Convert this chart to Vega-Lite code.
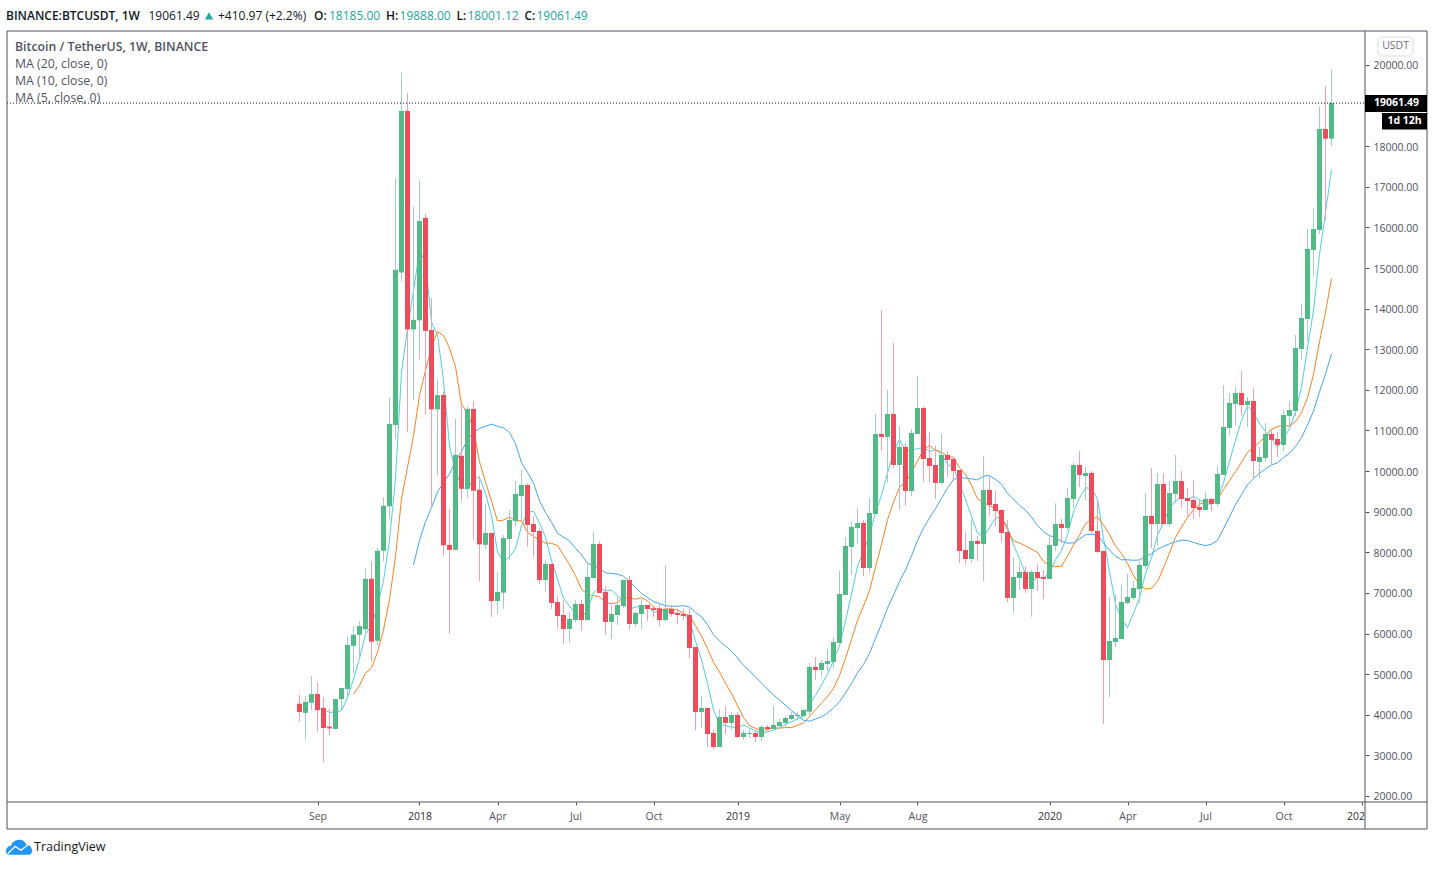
{
  "$schema": "https://vega.github.io/schema/vega-lite/v6.json",
  "width": 1358,
  "height": 771,
  "autosize": "none",
  "padding": {"left": 7, "top": 31, "right": 69, "bottom": 77},
  "background": "white",
  "view": {"stroke": null},
  "config": {"text": {"font": "Open Sans"}},
  "data": {"values": [{}]},
  "datasets": {
    "candles": [
      {"date":"2017-08-14","open":4273,"high":4488,"low":3832,"close":4069},
      {"date":"2017-08-21","open":4047,"high":4465,"low":3391,"close":4318},
      {"date":"2017-08-28","open":4296,"high":4952,"low":4114,"close":4510},
      {"date":"2017-09-04","open":4510,"high":4804,"low":3583,"close":4114},
      {"date":"2017-09-11","open":4171,"high":4431,"low":2826,"close":3674,"ma5":4137},
      {"date":"2017-09-18","open":3708,"high":4149,"low":3482,"close":3663,"ma5":4056},
      {"date":"2017-09-25","open":3651,"high":4386,"low":3651,"close":4386,"ma5":4069},
      {"date":"2017-10-02","open":4386,"high":4658,"low":4125,"close":4658,"ma5":4099},
      {"date":"2017-10-09","open":4635,"high":5935,"low":4465,"close":5720,"ma5":4420},
      {"date":"2017-10-16","open":5697,"high":6184,"low":5031,"close":5969,"ma5":4879,"ma10":4508},
      {"date":"2017-10-23","open":5969,"high":6300,"low":5370,"close":6184,"ma5":5383,"ma10":4720},
      {"date":"2017-10-30","open":6104,"high":7597,"low":6000,"close":7348,"ma5":5976,"ma10":5022},
      {"date":"2017-11-06","open":7348,"high":7778,"low":5313,"close":5800,"ma5":6204,"ma10":5152},
      {"date":"2017-11-13","open":5822,"high":8117,"low":5709,"close":8038,"ma5":6668,"ma10":5544},
      {"date":"2017-11-20","open":8038,"high":9361,"low":7778,"close":9146,"ma5":7303,"ma10":6091},
      {"date":"2017-11-27","open":9135,"high":11814,"low":8818,"close":11158,"ma5":8298,"ma10":6840},
      {"date":"2017-12-04","open":11136,"high":17218,"low":10797,"close":14957,"ma5":9820,"ma10":7898},
      {"date":"2017-12-11","open":14889,"high":19807,"low":14674,"close":18869,"ma5":12434,"ma10":9319},
      {"date":"2017-12-18","open":18869,"high":19310,"low":10966,"close":13487,"ma5":13523,"ma10":10096},
      {"date":"2017-12-25","open":13487,"high":16506,"low":11735,"close":13725,"ma5":14439,"ma10":10871,"ma20":7690},
      {"date":"2018-01-01","open":13713,"high":17162,"low":12753,"close":16156,"ma5":15439,"ma10":11868,"ma20":8294},
      {"date":"2018-01-08","open":16235,"high":16336,"low":11396,"close":13453,"ma5":15138,"ma10":12479,"ma20":8751},
      {"date":"2018-01-15","open":13476,"high":14267,"low":9101,"close":11520,"ma5":13668,"ma10":13051,"ma20":9102},
      {"date":"2018-01-22","open":11520,"high":12244,"low":9892,"close":11871,"ma5":13345,"ma10":13434,"ma20":9489},
      {"date":"2018-01-29","open":11871,"high":11961,"low":7914,"close":8174,"ma5":12235,"ma10":13337,"ma20":9714},
      {"date":"2018-02-05","open":8185,"high":9067,"low":5992,"close":8061,"ma5":10616,"ma10":13028,"ma20":9934},
      {"date":"2018-02-12","open":8061,"high":11283,"low":8061,"close":10401,"ma5":10005,"ma10":12572,"ma20":10235},
      {"date":"2018-02-19","open":10378,"high":11622,"low":9270,"close":9564,"ma5":9614,"ma10":11641,"ma20":10480},
      {"date":"2018-02-26","open":9564,"high":11588,"low":9349,"close":11531,"ma5":9546,"ma10":11446,"ma20":10771},
      {"date":"2018-03-05","open":11531,"high":11724,"low":8309,"close":9519,"ma5":9815,"ma10":11025,"ma20":10948},
      {"date":"2018-03-12","open":9542,"high":9892,"low":7292,"close":8196,"ma5":9842,"ma10":10229,"ma20":11049},
      {"date":"2018-03-19","open":8185,"high":9180,"low":8083,"close":8479,"ma5":9458,"ma10":9732,"ma20":11106},
      {"date":"2018-03-26","open":8479,"high":8479,"low":6410,"close":6802,"ma5":8905,"ma10":9260,"ma20":11156},
      {"date":"2018-04-02","open":6802,"high":7516,"low":6482,"close":7024,"ma5":8004,"ma10":8775,"ma20":11105},
      {"date":"2018-04-09","open":7007,"high":8427,"low":6605,"close":8353,"ma5":7771,"ma10":8793,"ma20":11065},
      {"date":"2018-04-16","open":8329,"high":9043,"low":7812,"close":8797,"ma5":7891,"ma10":8867,"ma20":10948},
      {"date":"2018-04-23","open":8772,"high":9757,"low":8632,"close":9437,"ma5":8083,"ma10":8771,"ma20":10672},
      {"date":"2018-04-30","open":9388,"high":10028,"low":8797,"close":9658,"ma5":8654,"ma10":8780,"ma20":10211},
      {"date":"2018-05-07","open":9658,"high":9700,"low":8140,"close":8674,"ma5":8984,"ma10":8494,"ma20":9970},
      {"date":"2018-05-14","open":8698,"high":8895,"low":7894,"close":8501,"ma5":9013,"ma10":8392,"ma20":9709},
      {"date":"2018-05-21","open":8526,"high":8591,"low":7221,"close":7319,"ma5":8718,"ma10":8305,"ma20":9267},
      {"date":"2018-05-28","open":7319,"high":7787,"low":7032,"close":7713,"ma5":8373,"ma10":8228,"ma20":8980},
      {"date":"2018-06-04","open":7713,"high":7713,"low":6605,"close":6753,"ma5":7792,"ma10":8223,"ma20":8742},
      {"date":"2018-06-11","open":6778,"high":6925,"low":6113,"close":6433,"ma5":7344,"ma10":8164,"ma20":8470},
      {"date":"2018-06-18","open":6457,"high":6827,"low":5743,"close":6113,"ma5":6866,"ma10":7940,"ma20":8367},
      {"date":"2018-06-25","open":6113,"high":6531,"low":5776,"close":6359,"ma5":6674,"ma10":7696,"ma20":8282},
      {"date":"2018-07-02","open":6334,"high":6827,"low":6268,"close":6728,"ma5":6477,"ma10":7425,"ma20":8098},
      {"date":"2018-07-09","open":6728,"high":6827,"low":6063,"close":6334,"ma5":6393,"ma10":7093,"ma20":7937},
      {"date":"2018-07-16","open":6334,"high":7730,"low":6318,"close":7393,"ma5":6585,"ma10":6965,"ma20":7730},
      {"date":"2018-07-23","open":7368,"high":8501,"low":7368,"close":8206,"ma5":7004,"ma10":6935,"ma20":7664},
      {"date":"2018-07-30","open":8206,"high":8271,"low":7000,"close":7000,"ma5":7132,"ma10":6903,"ma20":7604},
      {"date":"2018-08-06","open":7024,"high":7171,"low":5965,"close":6285,"ma5":7044,"ma10":6761,"ma20":7495},
      {"date":"2018-08-13","open":6285,"high":6703,"low":5866,"close":6482,"ma5":7073,"ma10":6733,"ma20":7478},
      {"date":"2018-08-20","open":6457,"high":6909,"low":6211,"close":6703,"ma5":6935,"ma10":6760,"ma20":7462},
      {"date":"2018-08-27","open":6679,"high":7319,"low":6630,"close":7319,"ma5":6758,"ma10":6881,"ma20":7411},
      {"date":"2018-09-03","open":7319,"high":7418,"low":6088,"close":6236,"ma5":6605,"ma10":6869,"ma20":7283},
      {"date":"2018-09-10","open":6236,"high":6540,"low":6162,"close":6507,"ma5":6649,"ma10":6847,"ma20":7136},
      {"date":"2018-09-17","open":6482,"high":6851,"low":6113,"close":6703,"ma5":6694,"ma10":6884,"ma20":6989},
      {"date":"2018-09-24","open":6703,"high":6703,"low":6310,"close":6605,"ma5":6674,"ma10":6805,"ma20":6885},
      {"date":"2018-10-01","open":6621,"high":6679,"low":6400,"close":6580,"ma5":6526,"ma10":6642,"ma20":6789},
      {"date":"2018-10-08","open":6621,"high":6744,"low":6186,"close":6334,"ma5":6546,"ma10":6576,"ma20":6740},
      {"date":"2018-10-15","open":6334,"high":7688,"low":6293,"close":6605,"ma5":6565,"ma10":6607,"ma20":6684},
      {"date":"2018-10-22","open":6605,"high":6703,"low":6416,"close":6482,"ma5":6521,"ma10":6608,"ma20":6671},
      {"date":"2018-10-29","open":6507,"high":6621,"low":6236,"close":6457,"ma5":6492,"ma10":6583,"ma20":6672},
      {"date":"2018-11-05","open":6482,"high":6621,"low":6334,"close":6433,"ma5":6462,"ma10":6494,"ma20":6688},
      {"date":"2018-11-12","open":6457,"high":6621,"low":5398,"close":5645,"ma5":6324,"ma10":6435,"ma20":6652},
      {"date":"2018-11-19","open":5669,"high":5669,"low":3626,"close":4069,"ma5":5817,"ma10":6191,"ma20":6519},
      {"date":"2018-11-26","open":4069,"high":4463,"low":3675,"close":4167,"ma5":5354,"ma10":5938,"ma20":6411},
      {"date":"2018-12-03","open":4167,"high":4167,"low":3207,"close":3527,"ma5":4768,"ma10":5630,"ma20":6218},
      {"date":"2018-12-10","open":3552,"high":3626,"low":3133,"close":3207,"ma5":4123,"ma10":5293,"ma20":5968},
      {"date":"2018-12-17","open":3207,"high":4143,"low":3207,"close":3946,"ma5":3783,"ma10":5054,"ma20":5815},
      {"date":"2018-12-24","open":3946,"high":4217,"low":3527,"close":3798,"ma5":3729,"ma10":4773,"ma20":5690},
      {"date":"2018-12-31","open":3798,"high":4069,"low":3626,"close":3995,"ma5":3695,"ma10":4525,"ma20":5567},
      {"date":"2019-01-07","open":3995,"high":4069,"low":3429,"close":3453,"ma5":3680,"ma10":4224,"ma20":5404},
      {"date":"2019-01-14","open":3453,"high":3626,"low":3380,"close":3552,"ma5":3749,"ma10":3936,"ma20":5215},
      {"date":"2019-01-21","open":3527,"high":3667,"low":3429,"close":3552,"ma5":3670,"ma10":3727,"ma20":5081},
      {"date":"2019-01-28","open":3552,"high":3626,"low":3330,"close":3453,"ma5":3601,"ma10":3665,"ma20":4928},
      {"date":"2019-02-04","open":3453,"high":3749,"low":3355,"close":3700,"ma5":3542,"ma10":3619,"ma20":4779},
      {"date":"2019-02-11","open":3700,"high":3749,"low":3600,"close":3650,"ma5":3581,"ma10":3631,"ma20":4631},
      {"date":"2019-02-18","open":3650,"high":4217,"low":3650,"close":3749,"ma5":3621,"ma10":3685,"ma20":4489},
      {"date":"2019-02-25","open":3724,"high":3897,"low":3700,"close":3823,"ma5":3675,"ma10":3673,"ma20":4364},
      {"date":"2019-03-04","open":3798,"high":3954,"low":3667,"close":3921,"ma5":3769,"ma10":3685,"ma20":4229},
      {"date":"2019-03-11","open":3897,"high":4077,"low":3872,"close":3995,"ma5":3828,"ma10":3685,"ma20":4105},
      {"date":"2019-03-18","open":3971,"high":4069,"low":3855,"close":3995,"ma5":3897,"ma10":3739,"ma20":3982},
      {"date":"2019-03-25","open":3971,"high":4151,"low":3954,"close":4118,"ma5":3970,"ma10":3796,"ma20":3866},
      {"date":"2019-04-01","open":4077,"high":5275,"low":3995,"close":5177,"ma5":4241,"ma10":3958,"ma20":3843},
      {"date":"2019-04-08","open":5177,"high":5423,"low":4857,"close":5103,"ma5":4478,"ma10":4124,"ma20":3895},
      {"date":"2019-04-15","open":5103,"high":5349,"low":4931,"close":5275,"ma5":4734,"ma10":4281,"ma20":3950},
      {"date":"2019-04-22","open":5250,"high":5620,"low":5078,"close":5325,"ma5":5000,"ma10":4449,"ma20":4040},
      {"date":"2019-04-29","open":5300,"high":5916,"low":5152,"close":5793,"ma5":5335,"ma10":4653,"ma20":4169},
      {"date":"2019-05-06","open":5768,"high":7541,"low":5768,"close":6975,"ma5":5694,"ma10":4968,"ma20":4321},
      {"date":"2019-05-13","open":6950,"high":8378,"low":6950,"close":8157,"ma5":6305,"ma10":5392,"ma20":4539},
      {"date":"2019-05-20","open":8132,"high":8747,"low":7442,"close":8624,"ma5":6975,"ma10":5855,"ma20":4770},
      {"date":"2019-05-27","open":8600,"high":9092,"low":8206,"close":8723,"ma5":7654,"ma10":6327,"ma20":5033},
      {"date":"2019-06-03","open":8723,"high":8797,"low":7418,"close":7615,"ma5":8019,"ma10":6677,"ma20":5237},
      {"date":"2019-06-10","open":7615,"high":9338,"low":7492,"close":8969,"ma5":8418,"ma10":7056,"ma20":5507},
      {"date":"2019-06-17","open":8944,"high":11407,"low":8944,"close":10914,"ma5":8969,"ma10":7637,"ma20":5881},
      {"date":"2019-06-24","open":10914,"high":13968,"low":10496,"close":10841,"ma5":9412,"ma10":8194,"ma20":6238},
      {"date":"2019-07-01","open":10841,"high":11998,"low":9708,"close":11407,"ma5":9949,"ma10":8802,"ma20":6626},
      {"date":"2019-07-08","open":11407,"high":13155,"low":10077,"close":10151,"ma5":10456,"ma10":9238,"ma20":6946},
      {"date":"2019-07-15","open":10151,"high":11111,"low":9043,"close":10594,"ma5":10781,"ma10":9600,"ma20":7284},
      {"date":"2019-07-22","open":10594,"high":10685,"low":9141,"close":9511,"ma5":10501,"ma10":9735,"ma20":7564},
      {"date":"2019-07-29","open":9511,"high":11037,"low":9388,"close":10939,"ma5":10520,"ma10":9966,"ma20":7911},
      {"date":"2019-08-05","open":10914,"high":12343,"low":10914,"close":11555,"ma5":10550,"ma10":10250,"ma20":8289},
      {"date":"2019-08-12","open":11555,"high":11587,"low":9732,"close":10299,"ma5":10580,"ma10":10518,"ma20":8598},
      {"date":"2019-08-19","open":10323,"high":10964,"low":9732,"close":10126,"ma5":10486,"ma10":10634,"ma20":8845},
      {"date":"2019-08-26","open":10151,"high":10619,"low":9314,"close":9708,"ma5":10525,"ma10":10513,"ma20":9075},
      {"date":"2019-09-02","open":9708,"high":10914,"low":9683,"close":10397,"ma5":10417,"ma10":10469,"ma20":9332},
      {"date":"2019-09-09","open":10397,"high":10496,"low":9856,"close":10274,"ma5":10161,"ma10":10356,"ma20":9579},
      {"date":"2019-09-16","open":10299,"high":10356,"low":9757,"close":10003,"ma5":10102,"ma10":10341,"ma20":9790},
      {"date":"2019-09-23","open":10028,"high":10028,"low":7738,"close":8033,"ma5":9683,"ma10":10085,"ma20":9843},
      {"date":"2019-09-30","open":8058,"high":8501,"low":7689,"close":7836,"ma5":9309,"ma10":9917,"ma20":9826},
      {"date":"2019-10-07","open":7836,"high":8797,"low":7738,"close":8280,"ma5":8885,"ma10":9651,"ma20":9809},
      {"date":"2019-10-14","open":8280,"high":8403,"low":7787,"close":8206,"ma5":8472,"ma10":9317,"ma20":9784},
      {"date":"2019-10-21","open":8206,"high":10373,"low":7295,"close":9535,"ma5":8378,"ma10":9240,"ma20":9879},
      {"date":"2019-10-28","open":9535,"high":9880,"low":8895,"close":9166,"ma5":8605,"ma10":9144,"ma20":9889},
      {"date":"2019-11-04","open":9191,"high":9511,"low":8649,"close":9018,"ma5":8841,"ma10":9075,"ma20":9794},
      {"date":"2019-11-11","open":9043,"high":9060,"low":8255,"close":8477,"ma5":8880,"ma10":8883,"ma20":9676},
      {"date":"2019-11-18","open":8501,"high":8797,"low":6778,"close":6876,"ma5":8614,"ma10":8543,"ma20":9450},
      {"date":"2019-11-25","open":6876,"high":7861,"low":6507,"close":7393,"ma5":8186,"ma10":8282,"ma20":9312},
      {"date":"2019-12-02","open":7368,"high":7763,"low":7073,"close":7516,"ma5":7856,"ma10":8231,"ma20":9158},
      {"date":"2019-12-09","open":7516,"high":7664,"low":7000,"close":7098,"ma5":7472,"ma10":8157,"ma20":9037},
      {"date":"2019-12-16","open":7098,"high":7566,"low":6416,"close":7516,"ma5":7280,"ma10":8080,"ma20":8866},
      {"date":"2019-12-23","open":7516,"high":7713,"low":7048,"close":7368,"ma5":7378,"ma10":7996,"ma20":8657},
      {"date":"2019-12-30","open":7393,"high":7566,"low":6851,"close":7344,"ma5":7368,"ma10":7777,"ma20":8509},
      {"date":"2020-01-06","open":7344,"high":8403,"low":7344,"close":8181,"ma5":7501,"ma10":7679,"ma20":8412},
      {"date":"2020-01-13","open":8157,"high":9207,"low":8033,"close":8698,"ma5":7821,"ma10":7647,"ma20":8361},
      {"date":"2020-01-20","open":8698,"high":8821,"low":8239,"close":8600,"ma5":8038,"ma10":7659,"ma20":8271},
      {"date":"2020-01-27","open":8600,"high":9585,"low":8550,"close":9338,"ma5":8432,"ma10":7905,"ma20":8224},
      {"date":"2020-02-03","open":9314,"high":10200,"low":9092,"close":10151,"ma5":8994,"ma10":8181,"ma20":8232},
      {"date":"2020-02-10","open":10151,"high":10496,"low":9610,"close":9905,"ma5":9338,"ma10":8420,"ma20":8326},
      {"date":"2020-02-17","open":9880,"high":10110,"low":9289,"close":9954,"ma5":9590,"ma10":8706,"ma20":8432},
      {"date":"2020-02-24","open":9954,"high":10003,"low":8427,"close":8526,"ma5":9575,"ma10":8807,"ma20":8444},
      {"date":"2020-03-02","open":8526,"high":9289,"low":7984,"close":8009,"ma5":9309,"ma10":8871,"ma20":8434},
      {"date":"2020-03-09","open":8033,"high":8033,"low":3773,"close":5349,"ma5":8349,"ma10":8672,"ma20":8225},
      {"date":"2020-03-16","open":5349,"high":6901,"low":4438,"close":5817,"ma5":7531,"ma10":8435,"ma20":8057},
      {"date":"2020-03-23","open":5793,"high":6975,"low":5669,"close":5891,"ma5":6718,"ma10":8154,"ma20":7901},
      {"date":"2020-03-30","open":5866,"high":7196,"low":5866,"close":6778,"ma5":6369,"ma10":7972,"ma20":7816},
      {"date":"2020-04-06","open":6753,"high":7467,"low":6728,"close":6900,"ma5":6147,"ma10":7728,"ma20":7817},
      {"date":"2020-04-13","open":6876,"high":7295,"low":6827,"close":7122,"ma5":6502,"ma10":7426,"ma20":7804},
      {"date":"2020-04-20","open":7098,"high":7771,"low":6745,"close":7689,"ma5":6876,"ma10":7204,"ma20":7812},
      {"date":"2020-04-27","open":7664,"high":9461,"low":7590,"close":8895,"ma5":7477,"ma10":7098,"ma20":7902},
      {"date":"2020-05-04","open":8895,"high":10077,"low":8107,"close":8698,"ma5":7861,"ma10":7115,"ma20":7961},
      {"date":"2020-05-11","open":8698,"high":9954,"low":8181,"close":9683,"ma5":8417,"ma10":7282,"ma20":8077},
      {"date":"2020-05-18","open":9683,"high":9954,"low":8698,"close":8698,"ma5":8733,"ma10":7618,"ma20":8145},
      {"date":"2020-05-25","open":8698,"high":9757,"low":8632,"close":9461,"ma5":9087,"ma10":7982,"ma20":8209},
      {"date":"2020-06-01","open":9437,"high":10397,"low":9207,"close":9757,"ma5":9259,"ma10":8368,"ma20":8261},
      {"date":"2020-06-08","open":9757,"high":10003,"low":9092,"close":9314,"ma5":9383,"ma10":8622,"ma20":8297},
      {"date":"2020-06-15","open":9338,"high":9585,"low":8895,"close":9264,"ma5":9299,"ma10":8858,"ma20":8293},
      {"date":"2020-06-22","open":9289,"high":9782,"low":8821,"close":9092,"ma5":9378,"ma10":9056,"ma20":8241},
      {"date":"2020-06-29","open":9117,"high":9289,"low":8870,"close":9043,"ma5":9294,"ma10":9191,"ma20":8198},
      {"date":"2020-07-06","open":9043,"high":9486,"low":9043,"close":9314,"ma5":9205,"ma10":9232,"ma20":8165},
      {"date":"2020-07-13","open":9314,"high":9338,"low":9018,"close":9191,"ma5":9181,"ma10":9282,"ma20":8199},
      {"date":"2020-07-20","open":9191,"high":10126,"low":9125,"close":9929,"ma5":9314,"ma10":9307,"ma20":8295},
      {"date":"2020-07-27","open":9905,"high":12121,"low":9905,"close":11087,"ma5":9713,"ma10":9546,"ma20":8582},
      {"date":"2020-08-03","open":11062,"high":11924,"low":10890,"close":11678,"ma5":10240,"ma10":9767,"ma20":8875},
      {"date":"2020-08-10","open":11653,"high":12072,"low":11111,"close":11924,"ma5":10762,"ma10":9984,"ma20":9176},
      {"date":"2020-08-17","open":11924,"high":12466,"low":11358,"close":11628,"ma5":11249,"ma10":10215,"ma20":9419},
      {"date":"2020-08-24","open":11628,"high":11825,"low":11087,"close":11727,"ma5":11609,"ma10":10462,"ma20":9660},
      {"date":"2020-08-31","open":11727,"high":12047,"low":9831,"close":10250,"ma5":11441,"ma10":10577,"ma20":9817},
      {"date":"2020-09-07","open":10225,"high":10594,"low":9831,"close":10348,"ma5":11175,"ma10":10708,"ma20":9950},
      {"date":"2020-09-14","open":10323,"high":11185,"low":10225,"close":10914,"ma5":10973,"ma10":10868,"ma20":10050},
      {"date":"2020-09-21","open":10914,"high":11013,"low":10151,"close":10767,"ma5":10801,"ma10":11025,"ma20":10154},
      {"date":"2020-09-28","open":10792,"high":10964,"low":10348,"close":10644,"ma5":10585,"ma10":11097,"ma20":10202},
      {"date":"2020-10-05","open":10644,"high":11505,"low":10496,"close":11382,"ma5":10811,"ma10":11126,"ma20":10336},
      {"date":"2020-10-12","open":11358,"high":11727,"low":11095,"close":11505,"ma5":11042,"ma10":11109,"ma20":10438},
      {"date":"2020-10-19","open":11481,"high":13352,"low":11350,"close":13032,"ma5":11466,"ma10":11220,"ma20":10602},
      {"date":"2020-10-26","open":13008,"high":14115,"low":12737,"close":13771,"ma5":12067,"ma10":11434,"ma20":10825},
      {"date":"2020-11-02","open":13746,"high":15962,"low":13188,"close":15470,"ma5":13032,"ma10":11809,"ma20":11136},
      {"date":"2020-11-09","open":15445,"high":16471,"low":14789,"close":15962,"ma5":13948,"ma10":12380,"ma20":11479},
      {"date":"2020-11-16","open":15938,"high":18967,"low":15839,"close":18425,"ma5":15332,"ma10":13187,"ma20":11948},
      {"date":"2020-11-23","open":18425,"high":19484,"low":16168,"close":18185,"ma5":16363,"ma10":13915,"ma20":12392},
      {"date":"2020-11-30","open":18185,"high":19888,"low":18001.12,"close":19061.49,"ma5":17421,"ma10":14744,"ma20":12885}
    ]
  },
  "layer": [
    {
      "data": {"name": "candles"},
      "mark": {"type": "line", "color": "#4dd0e1", "strokeWidth": 1, "clip": true},
      "encoding": {
        "x": {
          "field": "date",
          "type": "temporal",
          "title": null,
          "scale": {"type": "utc", "nice": false, "padding": 0, "domain": [{"year":2016,"month":9,"date":6,"hours":18,"utc":true}, {"year":2021,"month":1,"date":8,"hours":2,"utc":true}]},
          "axis": {
            "values": [
              {"year":2017,"month":9,"date":4,"utc":true},
              {"year":2018,"month":1,"date":1,"utc":true},
              {"year":2018,"month":4,"date":2,"utc":true},
              {"year":2018,"month":7,"date":2,"utc":true},
              {"year":2018,"month":10,"date":1,"utc":true},
              {"year":2019,"month":1,"date":7,"utc":true},
              {"year":2019,"month":5,"date":6,"utc":true},
              {"year":2019,"month":8,"date":5,"utc":true},
              {"year":2020,"month":1,"date":6,"utc":true},
              {"year":2020,"month":4,"date":6,"utc":true},
              {"year":2020,"month":7,"date":6,"utc":true},
              {"year":2020,"month":10,"date":5,"utc":true},
              {"year":2021,"month":1,"date":4,"utc":true}
            ],
            "labelExpr": "utcmonth(datum.value) === 0 ? (utcyear(datum.value) === 2021 ? '202' : '' + utcyear(datum.value)) : utcFormat(datum.value, '%b')",
            "labelFont": "Open Sans",
            "labelFontSize": 10.5,
            "labelColor": {"condition": {"test": "utcmonth(datum.value) === 0", "value": "#2a2e39"}, "value": "#50535e"},
            "labelOffset": {"condition": {"test": "utcyear(datum.value) === 2021", "value": -6}, "value": 0},
            "labelPadding": 6,
            "labelOverlap": false,
            "labelFlush": false,
            "tickColor": "#50535e",
            "tickSize": 3,
            "domain": false,
            "grid": false
          }
        },
        "y": {
          "field": "ma5",
          "type": "quantitative",
          "title": null,
          "scale": {"domain": [1852, 20837], "nice": false, "zero": false},
          "axis": {
            "orient": "right",
            "values": [2000, 3000, 4000, 5000, 6000, 7000, 8000, 9000, 10000, 11000, 12000, 13000, 14000, 15000, 16000, 17000, 18000, 19000, 20000],
            "format": ".2f",
            "labelFont": "Open Sans",
            "labelFontSize": 10.5,
            "labelColor": "#50535e",
            "labelPadding": 4,
            "labelOffset": 1,
            "labelOverlap": false,
            "labelFlush": false,
            "tickColor": "#50535e",
            "tickSize": 4,
            "domain": false,
            "grid": false
          }
        }
      }
    },
    {
      "data": {"name": "candles"},
      "mark": {"type": "line", "color": "#ff7f1e", "strokeWidth": 1, "clip": true},
      "encoding": {"x": {"field": "date", "type": "temporal"}, "y": {"field": "ma10", "type": "quantitative"}}
    },
    {
      "data": {"name": "candles"},
      "mark": {"type": "line", "color": "#42a5f5", "strokeWidth": 1, "clip": true},
      "encoding": {"x": {"field": "date", "type": "temporal"}, "y": {"field": "ma20", "type": "quantitative"}}
    },
    {
      "data": {"name": "candles"},
      "mark": {"type": "rule", "strokeWidth": 1},
      "encoding": {
        "x": {"field": "date", "type": "temporal"},
        "y": {"field": "low", "type": "quantitative"},
        "y2": {"field": "high"},
        "color": {"condition": {"test": "datum.close >= datum.open", "value": "#a5cbc8"}, "value": "#f0a3ae"}
      }
    },
    {
      "data": {"name": "candles"},
      "mark": {"type": "bar", "width": 5},
      "encoding": {
        "x": {"field": "date", "type": "temporal"},
        "y": {"field": "open", "type": "quantitative"},
        "y2": {"field": "close"},
        "color": {"condition": {"test": "datum.close >= datum.open", "value": "#53b987"}, "value": "#eb4d5c"}
      }
    },
    {
      "mark": {"type": "rule", "color": "#131722", "strokeWidth": 1, "strokeDash": [1, 2]},
      "encoding": {
        "x": {"datum": {"year":2016,"month":9,"date":6,"hours":18,"utc":true}, "type": "temporal"},
        "x2": {"datum": {"year":2021,"month":1,"date":8,"hours":2,"utc":true}},
        "y": {"datum": 19061.49, "type": "quantitative"}
      }
    },
    {
      "mark": {"type": "rect", "fillOpacity": 0, "stroke": "#50535e", "strokeWidth": 1},
      "encoding": {
        "x": {"datum": {"year":2016,"month":9,"date":6,"hours":18,"utc":true}, "type": "temporal"},
        "x2": {"datum": {"year":2021,"month":3,"date":21,"hours":10,"utc":true}},
        "y": {"datum": 1187, "type": "quantitative"},
        "y2": {"datum": 20837}
      }
    },
    {
      "mark": {"type": "rule", "color": "#50535e", "strokeWidth": 1},
      "encoding": {
        "x": {"datum": {"year":2021,"month":1,"date":8,"hours":2,"utc":true}, "type": "temporal"},
        "y": {"datum": 1187, "type": "quantitative"},
        "y2": {"datum": 20837}
      }
    },
    {
      "mark": {"type": "rule", "color": "#50535e", "strokeWidth": 1},
      "encoding": {
        "x": {"datum": {"year":2016,"month":9,"date":6,"hours":18,"utc":true}, "type": "temporal"},
        "x2": {"datum": {"year":2021,"month":3,"date":21,"hours":10,"utc":true}},
        "y": {"datum": 1852, "type": "quantitative"}
      }
    },
    {
      "mark": {"type": "rect", "color": "#000000"},
      "encoding": {
        "x": {"datum": {"year":2021,"month":1,"date":8,"hours":2,"utc":true}, "type": "temporal"},
        "x2": {"datum": {"year":2021,"month":3,"date":21,"hours":10,"utc":true}},
        "y": {"datum": 19262, "type": "quantitative"},
        "y2": {"datum": 18844}
      }
    },
    {
      "mark": {"type": "rect", "color": "#000000"},
      "encoding": {
        "x": {"datum": {"year":2021,"month":1,"date":27,"hours":22,"utc":true}, "type": "temporal"},
        "x2": {"datum": {"year":2021,"month":3,"date":21,"hours":10,"utc":true}},
        "y": {"datum": 18819, "type": "quantitative"},
        "y2": {"datum": 18413}
      }
    },
    {
      "mark": {"type": "rect", "fillOpacity": 0, "stroke": "#dcdce4", "strokeWidth": 1, "cornerRadius": 4},
      "encoding": {
        "x": {"datum": {"year":2021,"month":1,"date":23,"hours":6,"utc":true}, "type": "temporal"},
        "x2": {"datum": {"year":2021,"month":3,"date":5,"hours":2,"utc":true}},
        "y": {"datum": 20690, "type": "quantitative"},
        "y2": {"datum": 20222}
      }
    },
    {
      "mark": {"type": "text", "text": "USDT", "fontSize": 10.5, "color": "#6b6e78"},
      "encoding": {"x": {"datum": {"year":2021,"month":2,"date":12,"hours":17,"utc":true}, "type": "temporal"}, "y": {"datum": 20457, "type": "quantitative"}}
    },
    {
      "mark": {"type": "text", "text": "19061.49", "fontSize": 10.5, "fontWeight": "bold", "color": "#ffffff"},
      "encoding": {"x": {"datum": {"year":2021,"month":2,"date":13,"hours":22,"utc":true}, "type": "temporal"}, "y": {"datum": 19053, "type": "quantitative"}}
    },
    {
      "mark": {"type": "text", "text": "1d 12h", "fontSize": 10.5, "fontWeight": "bold", "color": "#ffffff"},
      "encoding": {"x": {"datum": {"year":2021,"month":2,"date":23,"hours":5,"utc":true}, "type": "temporal"}, "y": {"datum": 18616, "type": "quantitative"}}
    },
    {
      "mark": {"type": "text", "text": "Bitcoin / TetherUS, 1W, BINANCE", "align": "left", "fontSize": 12.3, "fontWeight": 600, "color": "#50535e"},
      "encoding": {"x": {"datum": {"year":2016,"month":9,"date":16,"hours":2,"utc":true}, "type": "temporal"}, "y": {"datum": 20444, "type": "quantitative"}}
    },
    {
      "mark": {"type": "text", "text": "MA (20, close, 0)", "align": "left", "fontSize": 12.3, "color": "#50535e"},
      "encoding": {"x": {"datum": {"year":2016,"month":9,"date":16,"hours":2,"utc":true}, "type": "temporal"}, "y": {"datum": 20025, "type": "quantitative"}}
    },
    {
      "mark": {"type": "text", "text": "MA (10, close, 0)", "align": "left", "fontSize": 12.3, "color": "#50535e"},
      "encoding": {"x": {"datum": {"year":2016,"month":9,"date":16,"hours":2,"utc":true}, "type": "temporal"}, "y": {"datum": 19607, "type": "quantitative"}}
    },
    {
      "mark": {"type": "text", "text": "MA (5, close, 0)", "align": "left", "fontSize": 12.3, "color": "#50535e"},
      "encoding": {"x": {"datum": {"year":2016,"month":9,"date":16,"hours":2,"utc":true}, "type": "temporal"}, "y": {"datum": 19188, "type": "quantitative"}}
    },
    {
      "mark": {"type": "text", "text": "BINANCE:BTCUSDT, 1W", "align": "left", "fontSize": 12, "fontWeight": 600, "color": "#131722"},
      "encoding": {"x": {"datum": {"year":2016,"month":9,"date":5,"hours":14,"utc":true}, "type": "temporal"}, "y": {"datum": 21207, "type": "quantitative"}}
    },
    {
      "mark": {"type": "text", "text": "19061.49", "align": "left", "fontSize": 12, "color": "#131722"},
      "encoding": {"x": {"datum": {"year":2017,"month":2,"date":18,"hours":20,"utc":true}, "type": "temporal"}, "y": {"datum": 21207, "type": "quantitative"}}
    },
    {
      "mark": {"type": "point", "shape": "triangle-up", "size": 70, "filled": true, "color": "#26a69a", "opacity": 1},
      "encoding": {"x": {"datum": {"year":2017,"month":4,"date":30,"hours":10,"utc":true}, "type": "temporal"}, "y": {"datum": 21207, "type": "quantitative"}}
    },
    {
      "mark": {"type": "text", "text": "+410.97 (+2.2%)", "align": "left", "fontSize": 12, "color": "#131722"},
      "encoding": {"x": {"datum": {"year":2017,"month":5,"date":10,"hours":22,"utc":true}, "type": "temporal"}, "y": {"datum": 21207, "type": "quantitative"}}
    },
    {
      "mark": {"type": "text", "text": "O:", "align": "left", "fontSize": 12, "fontWeight": 600, "color": "#131722"},
      "encoding": {"x": {"datum": {"year":2017,"month":8,"date":30,"hours":22,"utc":true}, "type": "temporal"}, "y": {"datum": 21207, "type": "quantitative"}}
    },
    {
      "mark": {"type": "text", "text": "18185.00", "align": "left", "fontSize": 12, "color": "#26a69a"},
      "encoding": {"x": {"datum": {"year":2017,"month":9,"date":17,"hours":10,"utc":true}, "type": "temporal"}, "y": {"datum": 21207, "type": "quantitative"}}
    },
    {
      "mark": {"type": "text", "text": "H:", "align": "left", "fontSize": 12, "fontWeight": 600, "color": "#131722"},
      "encoding": {"x": {"datum": {"year":2017,"month":11,"date":22,"hours":22,"utc":true}, "type": "temporal"}, "y": {"datum": 21207, "type": "quantitative"}}
    },
    {
      "mark": {"type": "text", "text": "19888.00", "align": "left", "fontSize": 12, "color": "#26a69a"},
      "encoding": {"x": {"datum": {"year":2017,"month":12,"date":8,"hours":17,"utc":true}, "type": "temporal"}, "y": {"datum": 21207, "type": "quantitative"}}
    },
    {
      "mark": {"type": "text", "text": "L:", "align": "left", "fontSize": 12, "fontWeight": 600, "color": "#131722"},
      "encoding": {"x": {"datum": {"year":2018,"month":2,"date":13,"hours":5,"utc":true}, "type": "temporal"}, "y": {"datum": 21207, "type": "quantitative"}}
    },
    {
      "mark": {"type": "text", "text": "18001.12", "align": "left", "fontSize": 12, "color": "#26a69a"},
      "encoding": {"x": {"datum": {"year":2018,"month":2,"date":26,"utc":true}, "type": "temporal"}, "y": {"datum": 21207, "type": "quantitative"}}
    },
    {
      "mark": {"type": "text", "text": "C:", "align": "left", "fontSize": 12, "fontWeight": 600, "color": "#131722"},
      "encoding": {"x": {"datum": {"year":2018,"month":5,"date":3,"hours":12,"utc":true}, "type": "temporal"}, "y": {"datum": 21207, "type": "quantitative"}}
    },
    {
      "mark": {"type": "text", "text": "19061.49", "align": "left", "fontSize": 12, "color": "#26a69a"},
      "encoding": {"x": {"datum": {"year":2018,"month":5,"date":17,"hours":12,"utc":true}, "type": "temporal"}, "y": {"datum": 21207, "type": "quantitative"}}
    },
    {
      "mark": {"type": "point", "size": 676, "filled": true, "color": "#2196f3", "opacity": 1, "shape": "M-1,0.35 C-1,0.05 -0.8,-0.1 -0.6,-0.1 C-0.55,-0.4 -0.2,-0.55 0.05,-0.55 C0.3,-0.55 0.45,-0.4 0.55,-0.2 C0.8,-0.2 1,0 1,0.3 C1,0.5 0.85,0.6 0.7,0.6 L-0.7,0.6 C-0.9,0.6 -1,0.5 -1,0.35 Z"},
      "encoding": {"x": {"datum": {"year":2016,"month":9,"date":20,"hours":18,"utc":true}, "type": "temporal"}, "y": {"datum": 744, "type": "quantitative"}}
    },
    {
      "mark": {"type": "point", "size": 676, "filled": false, "stroke": "#ffffff", "strokeWidth": 1.3, "opacity": 1, "shape": "M-0.85,0.5 L-0.3,-0.05 L0.15,0.25 L0.8,-0.25"},
      "encoding": {"x": {"datum": {"year":2016,"month":9,"date":20,"hours":18,"utc":true}, "type": "temporal"}, "y": {"datum": 744, "type": "quantitative"}}
    },
    {
      "mark": {"type": "text", "text": "TradingView", "align": "left", "fontSize": 12.5, "color": "#131722"},
      "encoding": {"x": {"datum": {"year":2016,"month":10,"date":8,"hours":6,"utc":true}, "type": "temporal"}, "y": {"datum": 744, "type": "quantitative"}}
    }
  ]
}
